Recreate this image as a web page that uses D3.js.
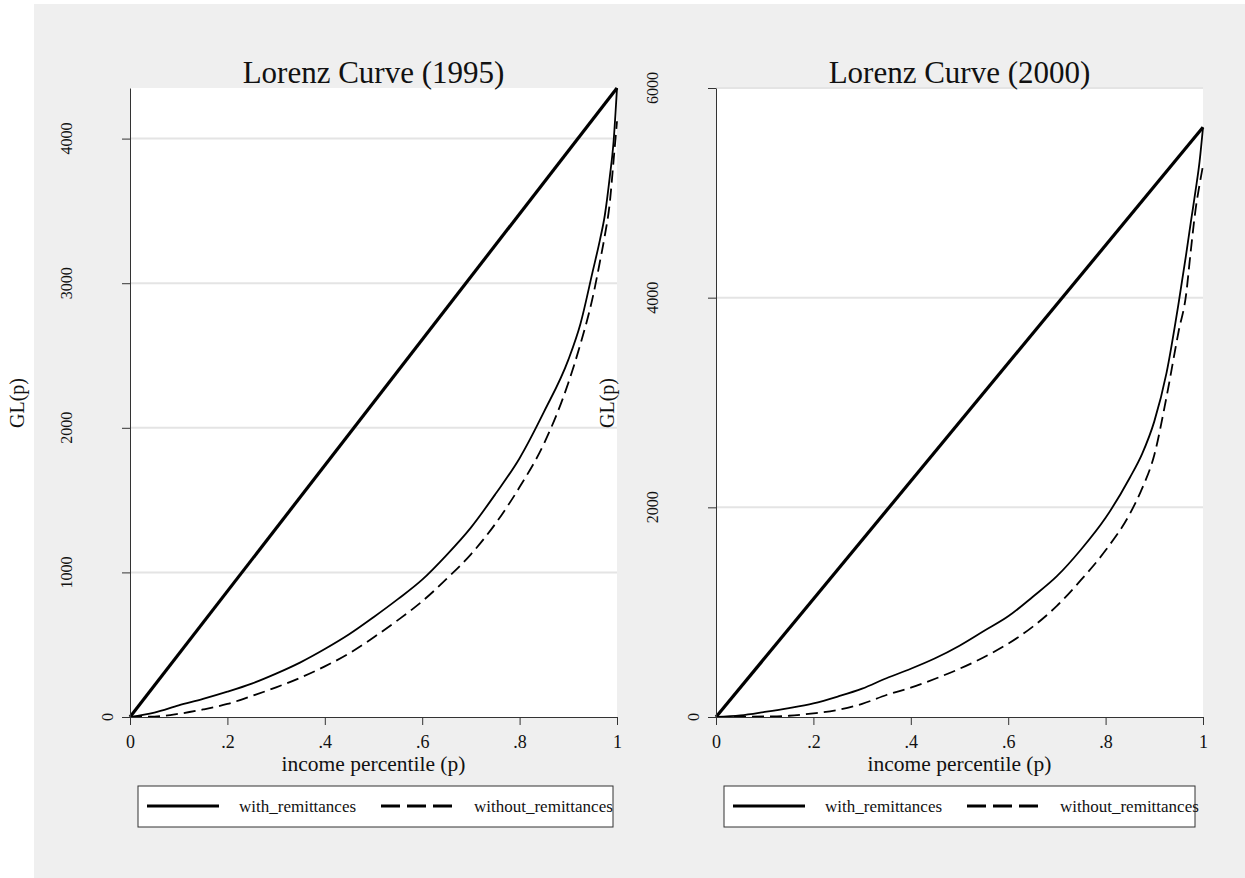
<!DOCTYPE html>
<html>
<head>
<meta charset="utf-8">
<script src="https://cdn.jsdelivr.net/npm/d3@7"></script>
<style>
body { margin: 0; background: #fff; }
svg { display: block; }
text { font-family: "Liberation Serif", "DejaVu Serif", serif; fill: #111; }
</style>
</head>
<body>
<svg width="1245" height="878"></svg>
<script>
// 1995 generalized Lorenz curves (percentile p -> GL(p))
var pctl95 = [0, .05, .1, .15, .2, .25, .3, .35, .4, .45, .5, .55, .6, .65, .7, .75, .8, .85, .9, .925, .95, .965, .975, .985, .993, 1];
var with95 = [0, 30, 80, 125, 175, 231, 300, 378, 470, 572, 690, 815, 950, 1120, 1310, 1540, 1790, 2110, 2470, 2720, 3080, 3300, 3470, 3730, 3980, 4350];
var without95 = [0, 3, 22, 52, 90, 145, 205, 272, 350, 440, 550, 670, 800, 955, 1125, 1335, 1590, 1890, 2310, 2580, 2900, 3150, 3330, 3550, 3850, 4120];

// 2000
var pctl00 = [0, .05, .1, .15, .2, .25, .3, .35, .4, .45, .5, .55, .6, .65, .7, .75, .8, .85, .875, .9, .925, .95, .965, .975, .985, .993, 1];
var with00 = [0, 15, 48, 85, 130, 195, 270, 370, 460, 560, 680, 820, 960, 1145, 1343, 1600, 1900, 2285, 2510, 2820, 3280, 3950, 4400, 4720, 5030, 5300, 5625];
var without00 = [0, 2, 5, 12, 35, 68, 125, 210, 280, 365, 460, 570, 700, 860, 1060, 1310, 1590, 1940, 2180, 2500, 3050, 3680, 4020, 4450, 4850, 5080, 5260];

// lines of equality
var eqP = [0, 1];
var eq95 = [0, 4350];
var eq00 = [0, 5625];

var xTicks = [0, .2, .4, .6, .8, 1];
var xTickLabels = ["0", ".2", ".4", ".6", ".8", "1"];
var yTicks95 = [0, 1000, 2000, 3000, 4000];
var yTicks00 = [0, 2000, 4000, 6000];
var legendLabels = ["with_remittances", "without_remittances"];

var svg = d3.select("svg");

svg.append("rect")
  .attr("x", 34).attr("y", 4)
  .attr("width", 1211).attr("height", 874)
  .attr("fill", "#efefef");

function zip(ps, vs) { return ps.map(function(p, i) { return [p, vs[i]]; }); }

function panel(o) {
  var g = svg.append("g");
  var x = d3.scaleLinear().domain([0, 1]).range([o.left, o.left + 487]);
  var y = d3.scaleLinear().domain([0, o.ymax]).range([717, 88]);

  g.append("rect")
    .attr("x", o.left).attr("y", 88)
    .attr("width", 487).attr("height", 629)
    .attr("fill", "#fff");

  // grid
  g.selectAll(".grid").data(o.yTicks.filter(function(d) { return d > 0; }))
    .enter().append("line")
    .attr("x1", x(0)).attr("x2", x(1))
    .attr("y1", function(d) { return y(d); })
    .attr("y2", function(d) { return y(d); })
    .attr("stroke", "#e4e4e4").attr("stroke-width", 2);

  var line = d3.line().curve(d3.curveMonotoneX)
    .x(function(d) { return x(d[0]); }).y(function(d) { return y(d[1]); });

  g.append("path").datum(zip(eqP, o.eq)).attr("d", line)
    .attr("fill", "none").attr("stroke", "#000").attr("stroke-width", 3.2);
  g.append("path").datum(zip(o.p, o.without)).attr("d", line)
    .attr("fill", "none").attr("stroke", "#000").attr("stroke-width", 1.8)
    .attr("stroke-dasharray", "12,6");
  g.append("path").datum(zip(o.p, o.with)).attr("d", line)
    .attr("fill", "none").attr("stroke", "#000").attr("stroke-width", 1.8);

  // axes
  var ya = g.append("g").attr("transform", "translate(" + o.left + ",0)")
    .call(d3.axisLeft(y).tickValues(o.yTicks).tickSize(8).tickSizeOuter(0).tickFormat(""));
  ya.select(".domain").attr("stroke", "#333");
  ya.selectAll(".tick line").attr("stroke", "#333");

  g.selectAll(".ylab").data(o.yTicks).enter().append("text")
    .attr("transform", function(d) {
      var n = String(d).length;
      return "translate(" + (o.left - 9 - 13.7 * n) + "," + y(d) + ") rotate(-90)";
    })
    .attr("text-anchor", "middle")
    .attr("dominant-baseline", "central")
    .attr("font-size", 16)
    .text(function(d) { return d; });

  var xa = g.append("g").attr("transform", "translate(0,717)")
    .call(d3.axisBottom(x).tickValues(xTicks).tickSize(8).tickSizeOuter(0).tickPadding(10)
      .tickFormat(function(d, i) { return xTickLabels[i]; }));
  xa.select(".domain").attr("stroke", "#333");
  xa.selectAll(".tick line").attr("stroke", "#333");
  xa.selectAll(".tick text").attr("font-size", 18).attr("fill", "#111")
    .attr("font-family", "Liberation Serif, serif");

  g.append("text")
    .attr("x", x(0.5)).attr("y", 771)
    .attr("text-anchor", "middle").attr("font-size", 21.5)
    .text("income percentile (p)");

  g.append("text")
    .attr("transform", "translate(" + o.yLabelX + ",403) rotate(-90)")
    .attr("text-anchor", "middle").attr("dominant-baseline", "central")
    .attr("font-size", 20)
    .text("GL(p)");

  g.append("text")
    .attr("x", x(0.5)).attr("y", 83)
    .attr("text-anchor", "middle").attr("font-size", 31)
    .text(o.title);

  // legend
  var lg = g.append("g").attr("transform", "translate(" + o.legendX + ",786)");
  lg.append("rect").attr("width", o.legendW).attr("height", 41)
    .attr("fill", "#fff").attr("stroke", "#333").attr("stroke-width", 1);
  lg.append("line").attr("x1", 9).attr("x2", 81).attr("y1", 20).attr("y2", 20)
    .attr("stroke", "#000").attr("stroke-width", 3);
  lg.append("text").attr("x", 101).attr("y", 20).attr("dominant-baseline", "central")
    .attr("font-size", 17).text(legendLabels[0]);
  lg.append("line").attr("x1", 243).attr("x2", 314).attr("y1", 20).attr("y2", 20)
    .attr("stroke", "#000").attr("stroke-width", 3).attr("stroke-dasharray", "19,7");
  lg.append("text").attr("x", 336).attr("y", 20).attr("dominant-baseline", "central")
    .attr("font-size", 17).text(legendLabels[1]);
}

panel({left: 130, ymax: 4350, yTicks: yTicks95, p: pctl95, with: with95, without: without95,
  eq: eq95, title: "Lorenz Curve (1995)", yLabelX: 17, legendX: 138, legendW: 475});
panel({left: 716, ymax: 6000, yTicks: yTicks00, p: pctl00, with: with00, without: without00,
  eq: eq00, title: "Lorenz Curve (2000)", yLabelX: 607, legendX: 724, legendW: 471});
</script>
</body>
</html>
